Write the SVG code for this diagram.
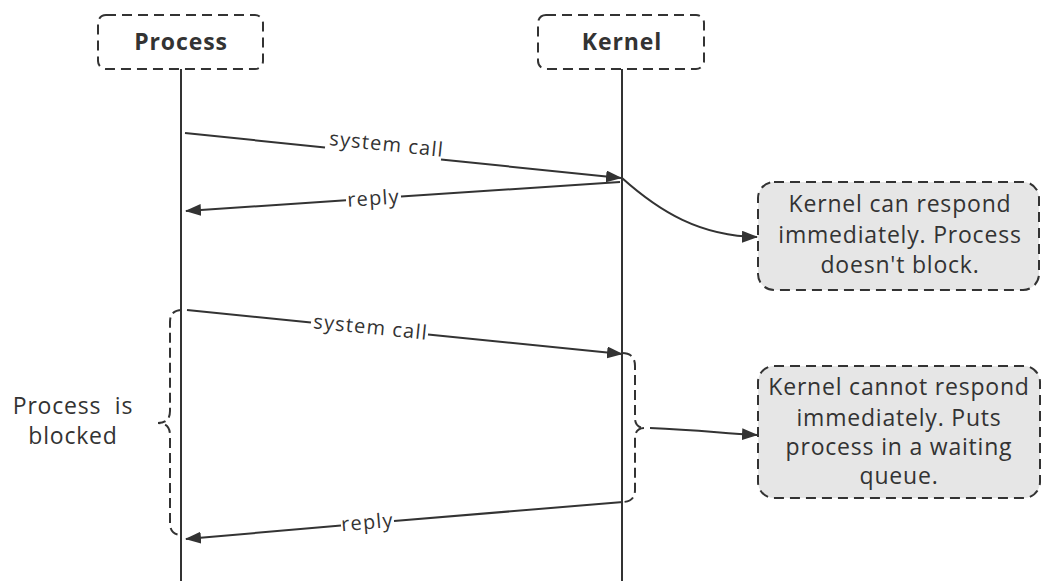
<svg xmlns="http://www.w3.org/2000/svg" width="1043" height="581" viewBox="0 0 1043 581">
<style>
text{font-family:"Open Sans","Noto Sans",sans-serif;fill:#333;}
.hdr{fill:#fff;stroke:#333;stroke-width:2;stroke-dasharray:10 6;}
.hdrt{font-size:23px;font-weight:bold;text-anchor:middle;letter-spacing:0.9px;}
.life{stroke:#333;stroke-width:2;fill:none;}
.note{fill:#e6e6e6;stroke:#333;stroke-width:2;stroke-dasharray:10 6;}
.nt{font-size:23px;text-anchor:middle;letter-spacing:0.8px;}
.lbl{font-size:20px;text-anchor:middle;letter-spacing:1.2px;}
.msg{stroke:#333;stroke-width:2;fill:none;}
.brace{stroke:#333;stroke-width:2;fill:none;stroke-dasharray:10 5;}
</style>
<defs>
<marker id="ahb" viewBox="0 0 16 12" refX="15" refY="6" markerWidth="16" markerHeight="12" orient="auto" markerUnits="userSpaceOnUse">
<path d="M0,0 L16,6 L0,12 z" fill="#333"/>
</marker>
</defs>
<g id="process">
<rect class="hdr" x="98" y="15" width="165" height="54" rx="8"/>
<text class="hdrt" x="181" y="50">Process</text>
<line class="life" x1="181" y1="69" x2="181" y2="581"/>
</g>
<g id="kernel">
<rect class="hdr" x="538" y="15" width="166" height="54" rx="8"/>
<text class="hdrt" x="622" y="50">Kernel</text>
<line class="life" x1="622" y1="69" x2="622" y2="581"/>
</g>
<g id="note1">
<rect class="note" x="758" y="182" width="281" height="108" rx="16"/>
<text class="nt" x="900" y="212">Kernel can respond</text>
<text class="nt" x="900" y="243">immediately. Process</text>
<text class="nt" x="900" y="273">doesn't block.</text>
</g>
<g id="note2">
<rect class="note" x="758" y="366" width="282" height="132" rx="16"/>
<text class="nt" x="899" y="395">Kernel cannot respond</text>
<text class="nt" x="899" y="426">immediately. Puts</text>
<text class="nt" x="899" y="455">process in a waiting</text>
<text class="nt" x="899" y="484">queue.</text>
</g>
<g id="blocked-label">
<text class="nt" x="73" y="414" style="white-space:pre">Process  is</text>
<text class="nt" x="73" y="444">blocked</text>
</g>
<g id="connectors">
<path class="msg" d="M185,133 L325,147.5"/>
<path class="msg" d="M441,159.5 L621,178" marker-end="url(#ahb)"/>
<text class="lbl" transform="translate(386,151) rotate(5.9)">system call</text>
<path class="msg" d="M620,182 L401,196.6"/>
<path class="msg" d="M346,200.2 L186,211" marker-end="url(#ahb)"/>
<text class="lbl" transform="translate(374,205) rotate(-3.8)">reply</text>
<path class="msg" d="M622,178 C660,212 700,236 757,237" marker-end="url(#ahb)"/>
<path class="msg" d="M187,310 L311,322.6"/>
<path class="msg" d="M428,334.5 L622,354" marker-end="url(#ahb)"/>
<text class="lbl" transform="translate(370,334) rotate(5.8)">system call</text>
<path class="brace" d="M622,353 Q635,353 635,366 L635,418 Q635,428 645,428 Q635,428 635,438 L635,490 Q635,502 622,502"/>
<path class="msg" d="M650,428 C700,430 720,433 757,435" marker-end="url(#ahb)"/>
<path class="msg" d="M623,502 L394,521"/>
<path class="msg" d="M341,525.5 L186,539" marker-end="url(#ahb)"/>
<text class="lbl" transform="translate(368,529) rotate(-4.8)">reply</text>
<path class="brace" d="M182,310 Q170,310 170,322 L170,411 Q170,423 158,423 Q170,423 170,435 L170,523 Q170,535 182,535"/>
</g>
</svg>
